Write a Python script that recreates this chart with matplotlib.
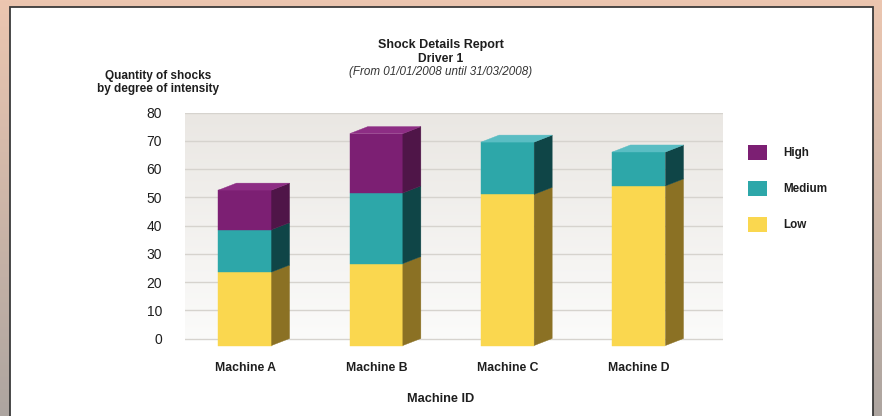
import numpy as np
import matplotlib.pyplot as plt
from matplotlib.patches import Polygon, Rectangle, Patch
from matplotlib.colors import to_rgb

plt.rcParams['font.family'] = ['Liberation Sans', 'DejaVu Sans']

# data
machines = ['Machine A', 'Machine B', 'Machine C', 'Machine D']
low = [26, 29, 53.5, 56.5]
medium = [15, 25, 18.5, 12]
high = [14, 21, 0, 0]
series_names = ['Low', 'Medium', 'High']
yticks = list(range(0, 81, 10))

front_cols = {'Low': '#FAD74F', 'Medium': '#2DA7A9', 'High': '#7C1F73'}
side_cols = {'Low': '#8B7124', 'Medium': '#0F4547', 'High': '#4F1548'}
top_cols = {'Low': '#FDE27A', 'Medium': '#5ABDC3', 'High': '#8D2D84'}
txt = '#1e1e1e'

W, H = 882, 416
fig = plt.figure(figsize=(W / 100, H / 100), dpi=100)

# background behind the white sheet
bg = fig.add_axes([0, 0, 1, 1], zorder=-10)
t = np.linspace(0, 1, 200)[:, None, None]
c_top = np.array(to_rgb('#ECC6B0'))
c_bot = np.array(to_rgb('#ADA5A0'))
img = c_top * (1 - t) + c_bot * t
bg.imshow(np.repeat(img, 2, axis=1), aspect='auto', extent=[0, 1, 0, 1])
bg.add_patch(Rectangle((10 / W, -0.02), 863 / W, (H - 7) / H + 0.02,
                       transform=bg.transAxes, facecolor='white',
                       edgecolor='#3a3a3a', lw=1.3))
bg.set_xlim(0, 1)
bg.set_ylim(0, 1)
bg.axis('off')

# main chart axes
ax_l, ax_r, ax_t, ax_b = 185, 723, 112.5, 349.8
ax = fig.add_axes([ax_l / W, (H - ax_b) / H, (ax_r - ax_l) / W, (ax_b - ax_t) / H])
ax.patch.set_alpha(0)
x0, x1 = -0.457, 3.64
y0, y1 = -4, 80
ax.set_xlim(x0, x1)
ax.set_ylim(y0, y1)

# back wall gradient
wt = np.linspace(0, 1, 100)[:, None, None]
wall = np.array(to_rgb('#EAE7E3')) * (1 - wt) + np.array(to_rgb('#FBFBFA')) * wt
ax.imshow(np.repeat(wall, 2, axis=1), aspect='auto', extent=[x0, x1, 0, 80], zorder=0)
for v in yticks:
    ax.axhline(v, color='#D6D3CE', lw=1, zorder=1)

# depth of the 3d look, in pixels -> data units
dx = 18 * (x1 - x0) / (ax_r - ax_l)
dy = 7 * (y1 - y0) / (ax_b - ax_t)
w = 0.404

for i in range(len(machines)):
    bottom = 0
    last = None
    for name, vals in zip(series_names, [low, medium, high]):
        h = vals[i]
        if h <= 0:
            continue
        yb, yt = bottom - dy, bottom + h - dy
        ax.bar(i, h, width=w, bottom=yb, color=front_cols[name],
               edgecolor=front_cols[name], lw=0.3, zorder=3)
        xr = i + w / 2
        ax.add_patch(Polygon([(xr, yb), (xr + dx, yb + dy), (xr + dx, yt + dy), (xr, yt)],
                             closed=True, facecolor=side_cols[name],
                             edgecolor=side_cols[name], lw=0.3, zorder=3))
        bottom += h
        last = name
    yt = bottom - dy
    xl, xr = i - w / 2, i + w / 2
    ax.add_patch(Polygon([(xl, yt), (xl + dx, yt + dy), (xr + dx, yt + dy), (xr, yt)],
                         closed=True, facecolor=top_cols[last],
                         edgecolor=top_cols[last], lw=0.3, zorder=3))

for s in ax.spines.values():
    s.set_visible(False)
ax.set_yticks(yticks)
ax.tick_params(axis='y', length=0, pad=16.5, labelsize=10, colors=txt)
ax.set_xticks(range(len(machines)), machines, fontweight='bold', fontsize=8.8)
ax.tick_params(axis='x', length=0, pad=8.5, colors=txt)

# titles
fig.text(0.5, 1 - 48 / H, 'Shock Details Report', ha='center', va='baseline',
         fontweight='bold', fontsize=9, color=txt)
fig.text(0.5, 1 - 62 / H, 'Driver 1', ha='center', va='baseline',
         fontweight='bold', fontsize=8.7, color=txt)
fig.text(0.5, 1 - 75 / H, '(From 01/01/2008 until 31/03/2008)', ha='center', va='baseline',
         style='italic', fontsize=8.4, color='#333333')
fig.text(158 / W, 1 - 82.5 / H, 'Quantity of shocks\nby degree of intensity', ha='center',
         va='center', fontweight='bold', fontsize=8.5, linespacing=1.2, color=txt)
fig.text(0.5, 1 - 398.5 / H, 'Machine ID', ha='center', va='center',
         fontweight='bold', fontsize=9.2, color=txt)

# legend
leg_order = ['High', 'Medium', 'Low']
handles = [Patch(facecolor=front_cols[n], edgecolor='none') for n in leg_order]
leg = fig.legend(handles, leg_order, loc='upper left', bbox_to_anchor=(748 / W, 1 - 145 / H),
                 frameon=False, fontsize=8.4, handlelength=1.6, handleheight=1.6,
                 handletextpad=1.4, labelspacing=1.8, borderpad=0, borderaxespad=0)
for tx in leg.get_texts():
    tx.set_fontweight('bold')
    tx.set_color(txt)

fig.savefig('out.png', dpi=100)
